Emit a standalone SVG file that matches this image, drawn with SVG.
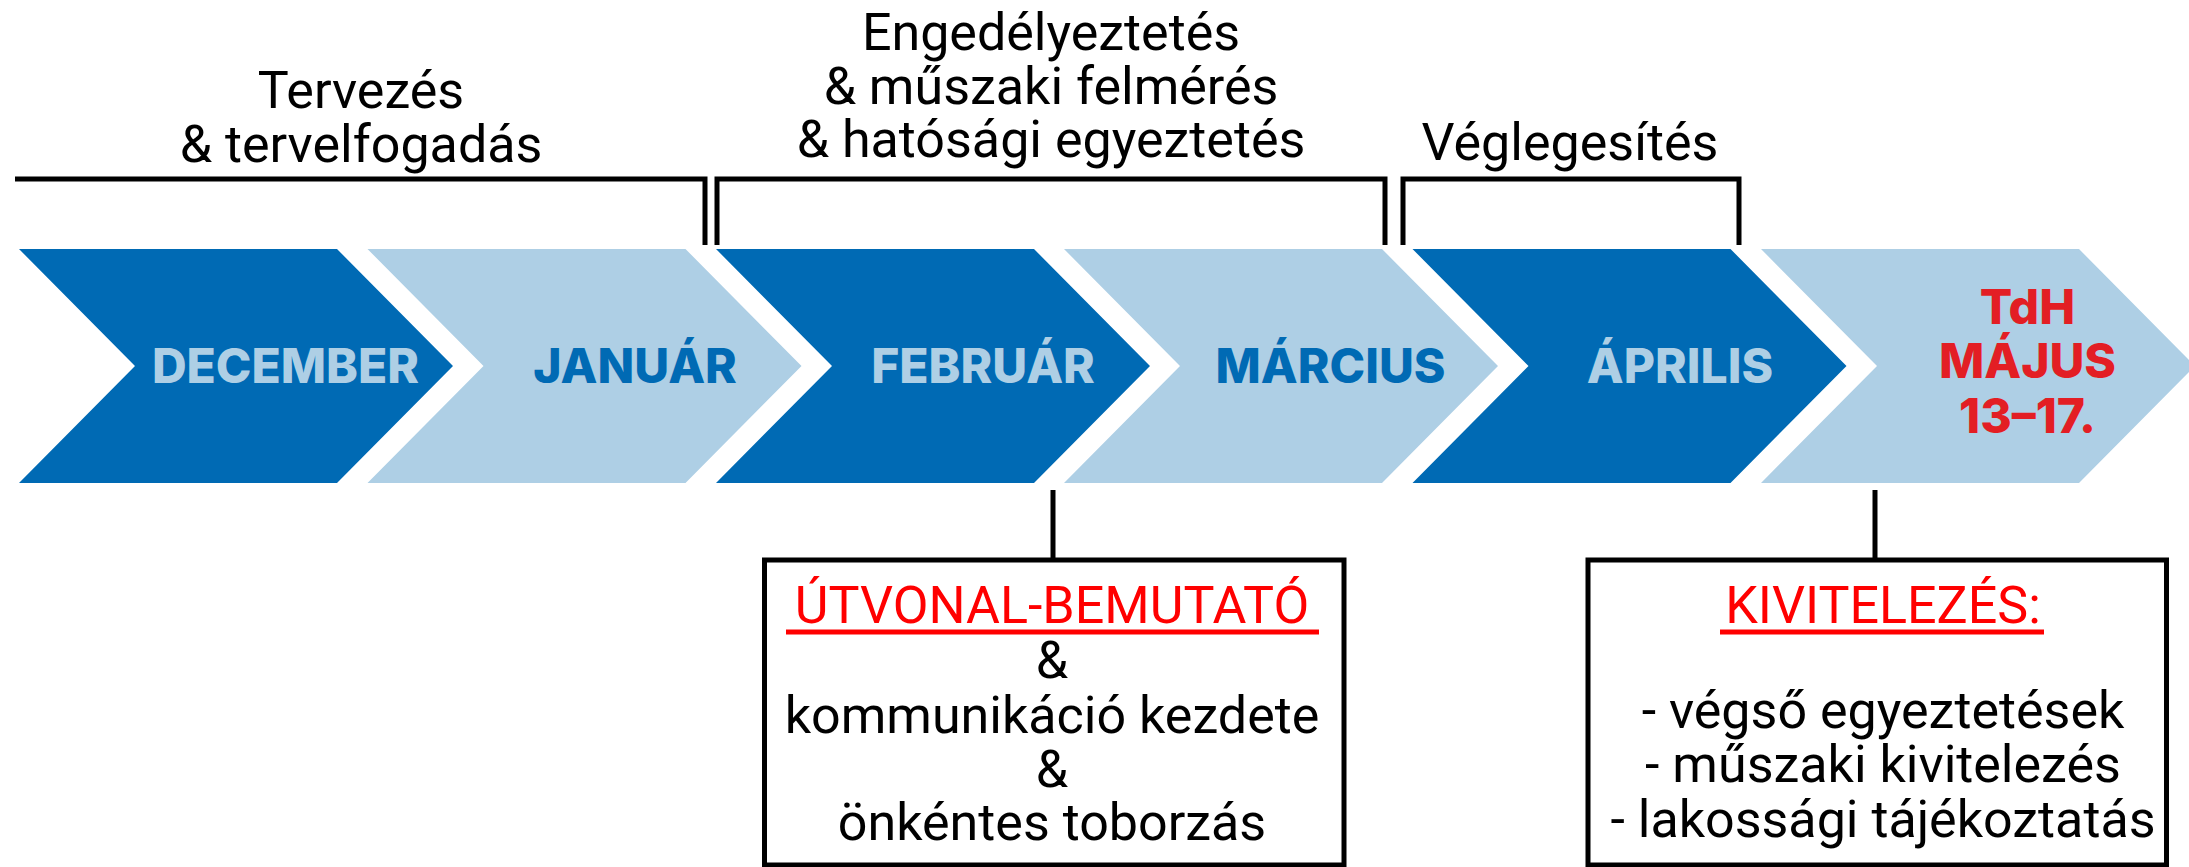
<svg xmlns="http://www.w3.org/2000/svg" width="2189" height="867" viewBox="0 0 2189 867">
<style>
.dark{fill:#006AB4}
.light{fill:#AECFE5}
.m{font-family:Inter,"Noto Sans",sans-serif;font-weight:800;font-size:48px;text-anchor:middle}
.mL{fill:#AECFE5}
.mD{fill:#006AB4}
.mR{fill:#E31E24}
.t{font-family:Roboto,"Liberation Sans",sans-serif;font-size:52px;fill:#000;text-anchor:middle}
.red{fill:#FF0000}
.br{fill:none;stroke:#000;stroke-width:5}
.ul{stroke:#FF0000;stroke-width:5}
.box{fill:#fff;stroke:#000;stroke-width:5}
</style>
<rect width="2189" height="867" fill="#fff"/>
<g id="chevron-december">
<path class="dark" d="M19,249 H337 L453,366 L337,483 H19 L135,366 Z"/>
<text class="m mL" x="285.5" y="383">DECEMBER</text>
</g>
<g id="chevron-januar">
<path class="light" d="M367.5,249 H685.5 L801.5,366 L685.5,483 H367.5 L483.5,366 Z"/>
<text class="m mD" x="635" y="383">JANUÁR</text>
</g>
<g id="chevron-februar">
<path class="dark" d="M716,249 H1034 L1150,366 L1034,483 H716 L832,366 Z"/>
<text class="m mL" x="983" y="383">FEBRUÁR</text>
</g>
<g id="chevron-marcius">
<path class="light" d="M1064,249 H1382 L1498,366 L1382,483 H1064 L1180,366 Z"/>
<text class="m mD" x="1330.5" y="383">MÁRCIUS</text>
</g>
<g id="chevron-aprilis">
<path class="dark" d="M1412.5,249 H1730.5 L1846.5,366 L1730.5,483 H1412.5 L1528.5,366 Z"/>
<text class="m mL" x="1680" y="383">ÁPRILIS</text>
</g>
<g id="chevron-majus">
<path class="light" d="M1761,249 H2079 L2195,366 L2079,483 H1761 L1877,366 Z"/>
<text class="m mR" x="2027.5" y="324">TdH</text>
<text class="m mR" x="2027.5" y="378">MÁJUS</text>
<text class="m mR" x="2027.5" y="433">13–17.</text>
</g>
<g id="phase-tervezes">
<path class="br" d="M15,179 H705 V245"/>
<text class="t" x="361" y="108">Tervezés</text>
<text class="t" x="361" y="162">&amp; tervelfogadás</text>
</g>
<g id="phase-engedelyeztetes">
<path class="br" d="M717,245 V179 H1385 V245"/>
<text class="t" x="1051" y="50">Engedélyeztetés</text>
<text class="t" x="1051" y="104">&amp; műszaki felmérés</text>
<text class="t" x="1051" y="157">&amp; hatósági egyeztetés</text>
</g>
<g id="phase-veglegesites">
<path class="br" d="M1403,245 V179 H1739 V245"/>
<text class="t" x="1570" y="160">Véglegesítés</text>
</g>
<g id="connectors">
<line x1="1053" y1="490" x2="1053" y2="560" stroke="#000" stroke-width="5"/>
<line x1="1875" y1="490" x2="1875" y2="560" stroke="#000" stroke-width="5"/>
</g>
<g id="box-utvonal">
<rect class="box" x="764.5" y="560" width="579.5" height="305"/>
<text class="t red" x="1052" y="623">ÚTVONAL-BEMUTATÓ</text>
<line class="ul" x1="786" y1="632" x2="1319" y2="632"/>
<text class="t" x="1052" y="678">&amp;</text>
<text class="t" x="1052" y="733">kommunikáció kezdete</text>
<text class="t" x="1052" y="787">&amp;</text>
<text class="t" x="1052" y="840">önkéntes toborzás</text>
</g>
<g id="box-kivitelezes">
<rect class="box" x="1588" y="560" width="578.5" height="305"/>
<text class="t red" x="1883" y="623">KIVITELEZÉS:</text>
<line class="ul" x1="1720" y1="632" x2="2044" y2="632"/>
<text class="t" x="1883" y="728">- végső egyeztetések</text>
<text class="t" x="1883" y="782">- műszaki kivitelezés</text>
<text class="t" x="1883" y="837">- lakossági tájékoztatás</text>
</g>
</svg>
